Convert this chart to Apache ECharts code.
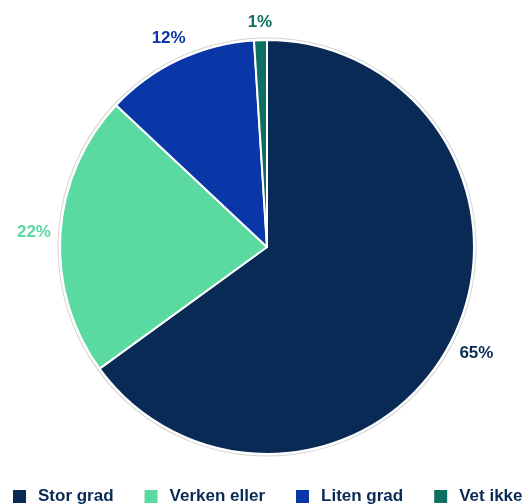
<!DOCTYPE html>
<html>
<head>
<meta charset="utf-8">
<script src="https://cdn.jsdelivr.net/npm/echarts@6/dist/echarts.min.js"></script>
<style>
html,body{margin:0;padding:0;background:#fff;}
#c{width:523px;height:504px;}
</style>
</head>
<body>
<div id="c"></div>
<script>
var categories = ['Stor grad', 'Verken eller', 'Liten grad', 'Vet ikke'];
var values = [65, 22, 12, 1];
var colors = ['#0a2a56', '#5ad9a1', '#0a37a8', '#0e6e5f'];

var chart = echarts.init(document.getElementById('c'), null, {renderer: 'canvas'});
var CX = 267, CY = 247, R = 207;

var data = categories.map(function (n, i) {
  return {
    name: n,
    value: values[i],
    itemStyle: {color: colors[i]},
    label: {color: colors[i]}
  };
});

function layoutLabel(params) {
  if (params.seriesIndex !== 1) return {};
  var sd = chart.getModel().getSeriesByIndex(1).getData();
  var lay = sd.getItemLayout(params.dataIndex);
  if (!lay) return {};
  var mid = (lay.startAngle + lay.endAngle) / 2;
  var dx = Math.cos(mid), dy = Math.sin(mid);
  var w = params.labelRect.width, h = params.labelRect.height;
  var gap = 10;
  var dist = lay.r - 1 + gap + (w / 2) * Math.abs(dx) + (h / 2) * Math.abs(dy);
  return {
    x: lay.cx + dx * dist,
    y: lay.cy + dy * dist,
    align: 'center',
    verticalAlign: 'middle'
  };
}

var option = {
  animation: false,
  backgroundColor: '#ffffff',
  legend: {
    data: categories,
    left: 13,
    top: 488,
    padding: 0,
    width: 900,
    orient: 'horizontal',
    itemWidth: 13,
    itemHeight: 13,
    itemGap: 31,
    icon: 'rect',
    selectedMode: false,
    itemStyle: {borderWidth: 0},
    textStyle: {
      fontFamily: 'Liberation Sans, Arial, sans-serif',
      fontSize: 17,
      fontWeight: 'bold',
      color: '#0a2a56',
      padding: [0, 0, 0, 7]
    }
  },
  series: [
    {
      type: 'pie',
      name: 'ring',
      silent: true,
      center: [CX, CY],
      radius: [R + 1.5, R + 2.5],
      label: {show: false},
      labelLine: {show: false},
      itemStyle: {color: '#d4d4d4'},
      data: [{name: '_ring', value: 1}]
    },
    {
      type: 'pie',
      name: 'main',
      center: [CX, CY],
      radius: R,
      startAngle: 90,
      clockwise: true,
      avoidLabelOverlap: false,
      itemStyle: {borderColor: '#ffffff', borderWidth: 2},
      label: {
        show: true,
        position: 'outside',
        formatter: '{c}%',
        fontFamily: 'Liberation Sans, Arial, sans-serif',
        fontSize: 17,
        fontWeight: 'bold'
      },
      labelLine: {show: false},
      labelLayout: layoutLabel,
      data: data
    }
  ]
};
chart.setOption(option);
</script>
</body>
</html>
